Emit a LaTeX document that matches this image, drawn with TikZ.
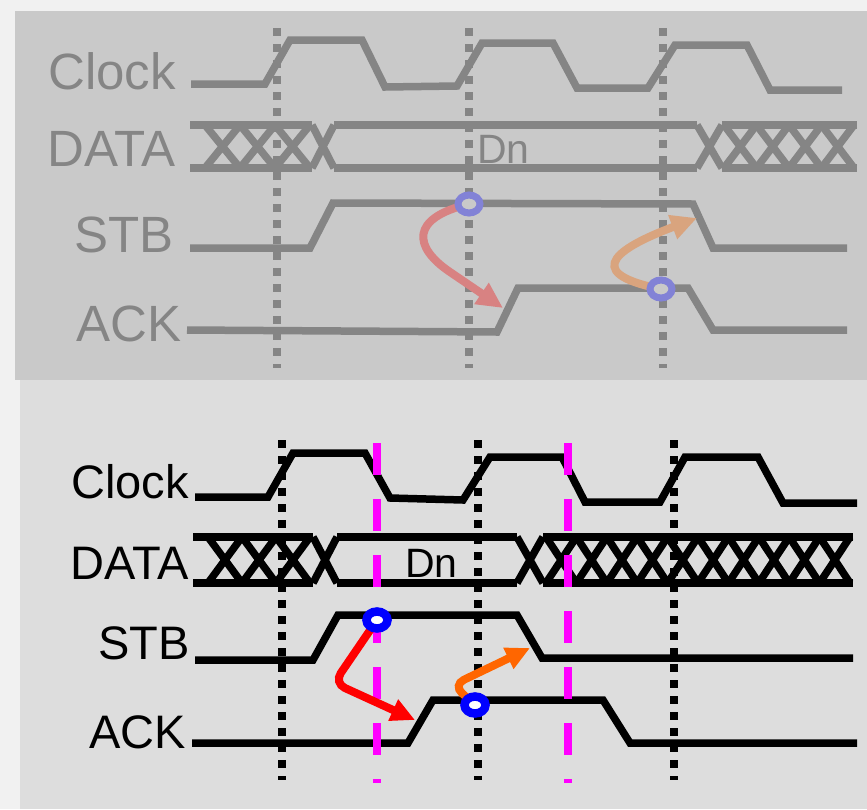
\documentclass[tikz,border=0pt]{standalone}
\usepackage{fontspec}
\setmainfont{Liberation Sans}
\usetikzlibrary{arrows.meta,shapes.geometric}
\definecolor{bgout}{HTML}{F1F1F1}
\definecolor{toppanel}{HTML}{C9C9C9}
\definecolor{botpanel}{HTML}{DDDDDD}
\definecolor{gline}{HTML}{858585}
\definecolor{gcirc}{HTML}{8282D6}
\definecolor{gred}{HTML}{D88282}
\definecolor{gorange}{HTML}{D9A47E}
\definecolor{mag}{HTML}{FF00FF}
\definecolor{orng}{HTML}{FF6600}
\begin{document}
\begin{tikzpicture}[x=1pt,y=-1pt,
  sigT/.style={draw=gline,line width=7.5pt,line join=miter},
  sigB/.style={draw=black,line width=7.5pt,line join=miter},
  dotT/.style={draw=gline,line width=8pt,dash pattern=on 8pt off 8pt},
  dotB/.style={draw=black,line width=8pt,dash pattern=on 8pt off 8pt},
  magline/.style={draw=mag,line width=7.5pt,dash pattern=on 32pt off 24pt},
  lblT/.style={font=\fontsize{51}{60}\selectfont,text=gline,inner sep=0pt,anchor=base east},
  lblB/.style={font=\fontsize{47}{56}\selectfont,text=black,inner sep=0pt,anchor=base east},
  dnT/.style={font=\fontsize{41}{48}\selectfont,text=gline,inner sep=0pt,anchor=base west},
  dnB/.style={font=\fontsize{41}{48}\selectfont,text=black,inner sep=0pt,anchor=base west},
  ringT/.style={ellipse,draw=gcirc,fill=toppanel,line width=7pt,minimum width=22pt,minimum height=18pt,inner sep=0pt},
  ringB/.style={ellipse,draw=blue,fill=white,line width=8.5pt,minimum width=21pt,minimum height=17pt,inner sep=0pt},
  arrT/.style={line width=8pt,-{Triangle[length=26pt,width=24pt]}},
  arrB/.style={line width=8pt,rounded corners=12pt,-{Triangle[length=24pt,width=22pt]}}
]
\useasboundingbox (0,0) rectangle (867,809);
\fill[bgout] (0,0) rectangle (867,809);
\fill[toppanel] (15,11) rectangle (867,380);
\fill[botpanel] (20,380) rectangle (867,809);

% ===== top panel =====
\draw[dotT] (277,28) -- (277,368);
\draw[dotT] (469,28) -- (469,368);
\draw[dotT] (663,28) -- (663,368);

\draw[sigT] (191,84) -- (265,84) -- (290,40) -- (362,40) -- (385,87) -- (457,86) -- (482,43) -- (553,43) -- (577,88) -- (648,88) -- (675,45) -- (747,45) -- (770,90) -- (842,90);
% DATA
\draw[sigT] (190,125) -- (312,125) (190,168) -- (312,168);
\foreach \i in {0,1,2}
  \draw[sigT] ({205+35*\i},125) -- ({240+35*\i},168) ({205+35*\i},168) -- ({240+35*\i},125);
\draw[sigT] (312,125) -- (334,168) (312,168) -- (334,125);
\draw[sigT] (334,125) -- (697,125) (334,168) -- (697,168);
\draw[sigT] (697,125) -- (722,168) (697,168) -- (722,125);
\draw[sigT] (722,125) -- (857,125) (722,168) -- (857,168);
\foreach \i in {0,1,2,3}
  \draw[sigT] ({724+32.5*\i},125) -- ({756.5+32.5*\i},168) ({724+32.5*\i},168) -- ({756.5+32.5*\i},125);
% STB
\draw[sigT] (190,248) -- (310,248) -- (333,203) -- (693,204) -- (713,248) -- (847,248);
% ACK
\draw[sigT] (187,330) -- (497,332) -- (518,288) -- (688,288) -- (713,330) -- (847,330);

\node[lblT] (clkT) at (176,89) {Clock};
\node[lblT] (dataT) at (176,166) {DATA};
\node[lblT] (stbT) at (174,252) {STB};
\node[lblT] (ackT) at (182,341) {ACK};
\node[dnT] (dnT) at (477,163) {Dn};

\coordinate (c1T) at (469,204);
\coordinate (c2T) at (661,289);
\coordinate (bend1T) at (450,272);
\coordinate (tip1T) at (503,308);
\coordinate (tip2T) at (697,218);
\draw[arrT,draw=gred] (c1T) .. controls (410,218) and (413,247) .. (bend1T) -- (tip1T);
\draw[arrT,draw=gorange] (c2T) .. controls (575,272) and (625,245) .. (tip2T);
\node[ringT] (r1T) at (c1T) {};
\node[ringT] (r2T) at (c2T) {};

% ===== bottom panel =====
\draw[dotB] (282,440) -- (282,780);
\draw[dotB] (478,440) -- (478,780);
\draw[dotB] (674,440) -- (674,780);

\draw[sigB] (195,497) -- (268,497) -- (293,453) -- (365,453) -- (390,498) -- (463,500) -- (490,457) -- (562,457) -- (585,502) -- (660,502) -- (685,457) -- (758,457) -- (783,503) -- (857,503);
% DATA
\draw[sigB] (193,537) -- (313,537) (193,583) -- (313,583);
\foreach \i in {0,1,2}
  \draw[sigB] ({208+34*\i},537) -- ({242+34*\i},583) ({208+34*\i},583) -- ({242+34*\i},537);
\draw[sigB] (313,537) -- (337,583) (313,583) -- (337,537);
\draw[sigB] (337,537) -- (517,537) (337,583) -- (517,583);
\draw[sigB] (517,537) -- (543,583) (517,583) -- (543,537);
\draw[sigB] (543,537) -- (853,537) (543,583) -- (853,583);
\foreach \i in {0,...,9}
  \draw[sigB] ({546+30.4*\i},537) -- ({576.4+30.4*\i},583) ({546+30.4*\i},583) -- ({576.4+30.4*\i},537);
% STB
\draw[sigB] (195,660) -- (313,660) -- (338,615) -- (517,615) -- (542,658) -- (853,658);
% ACK
\draw[sigB] (192,743) -- (408,743) -- (433,700) -- (603,700) -- (630,743) -- (857,743);

\draw[magline] (377,443) -- (377,783);
\draw[magline] (568,443) -- (568,783);

\node[lblB] (clkB) at (189,498) {Clock};
\node[lblB] (dataB) at (189,579) {DATA};
\node[lblB] (stbB) at (190,659) {STB};
\node[lblB] (ackB) at (186,748) {ACK};
\node[dnB] (dnB) at (405,577) {Dn};

\coordinate (c1B) at (377,620);
\coordinate (c2B) at (475,705);
\coordinate (bend1B) at (334,683);
\coordinate (bend2B) at (453,685);
\coordinate (tip1B) at (415,720);
\coordinate (tip2B) at (530,648);
\draw[arrB,draw=red] (c1B) -- (bend1B) -- (tip1B);
\draw[arrB,draw=orng] (c2B) -- (bend2B) -- (tip2B);
\node[ringB] (r1B) at (c1B) {};
\node[ringB] (r2B) at (c2B) {};
\end{tikzpicture}
\end{document}
